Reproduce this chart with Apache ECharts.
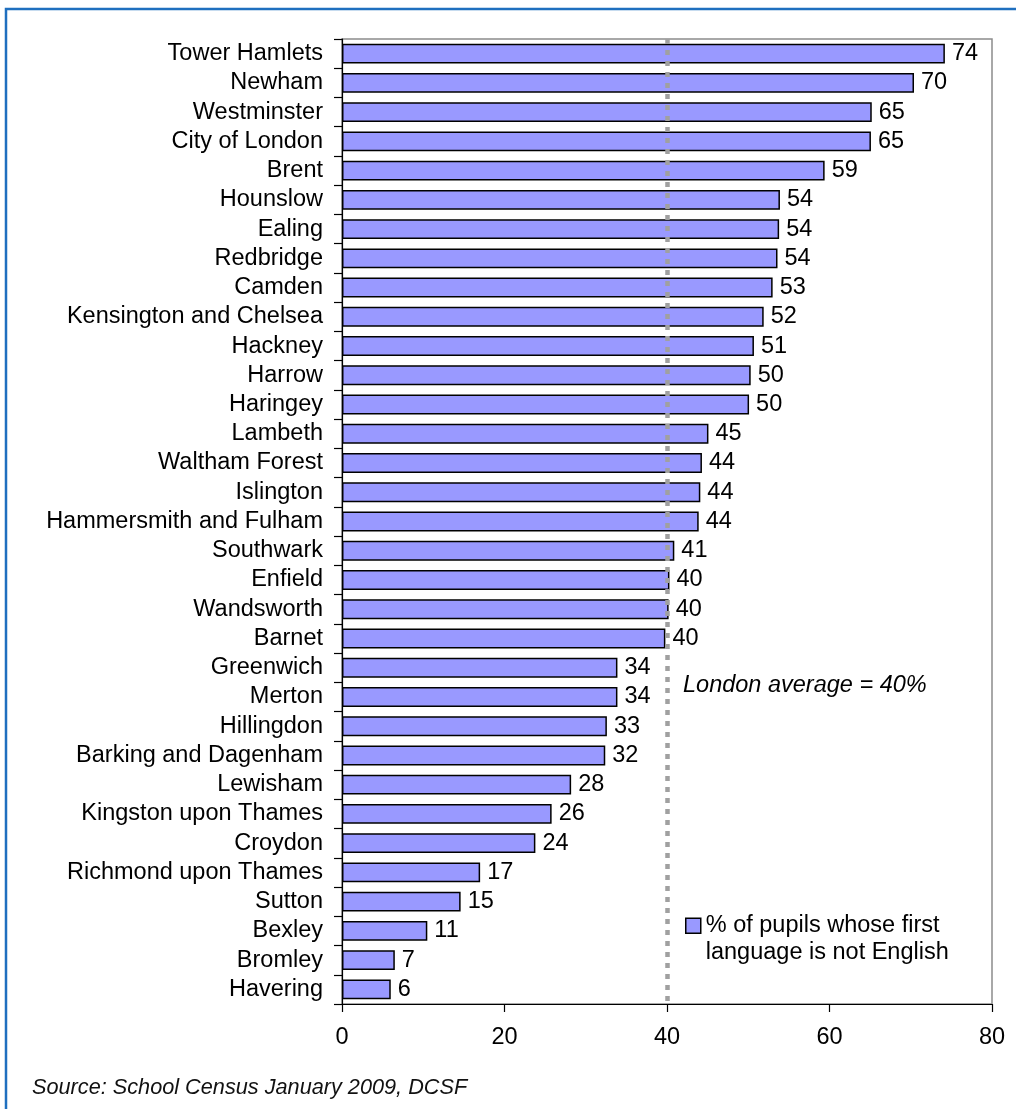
<!DOCTYPE html>
<html>
<head>
<meta charset="utf-8">
<script src="https://cdn.jsdelivr.net/npm/echarts@6/dist/echarts.min.js"></script>
<style>
html,body{margin:0;padding:0;background:#fff;}
#chart{width:1016px;height:1109px;}
</style>
</head>
<body>
<div id="chart"></div>
<script>
const boroughs = ["Tower Hamlets","Newham","Westminster","City of London","Brent","Hounslow","Ealing","Redbridge","Camden","Kensington and Chelsea","Hackney","Harrow","Haringey","Lambeth","Waltham Forest","Islington","Hammersmith and Fulham","Southwark","Enfield","Wandsworth","Barnet","Greenwich","Merton","Hillingdon","Barking and Dagenham","Lewisham","Kingston upon Thames","Croydon","Richmond upon Thames","Sutton","Bexley","Bromley","Havering"];
const pctNotEnglish = [74.2,70.4,65.2,65.1,59.4,53.9,53.8,53.6,53.0,51.9,50.7,50.3,50.1,45.1,44.3,44.1,43.9,40.9,40.3,40.2,39.8,33.9,33.9,32.6,32.4,28.2,25.8,23.8,17.0,14.6,10.5,6.5,6.0];
const londonAverage = 40;
const xTicks = {min:0, max:80, interval:20};
const seriesName = "% of pupils whose first language is not English";
const legendLines = ["% of pupils whose first","language is not English"];
const averageLabel = "London average = 40%";
const sourceText = "Source: School Census January 2009, DCSF";

const FONT = "Liberation Sans, Arial, sans-serif";
const chart = echarts.init(document.getElementById('chart'), null, {renderer:'canvas'});
chart.setOption({
  animation:false,
  backgroundColor:'#fff',
  title:{
    text: sourceText, left: 32, top: 1077, padding:0,
    textStyle:{fontFamily:FONT, fontSize:21.7, fontStyle:'italic', fontWeight:'normal', color:'#111'}
  },
  grid:{left:342, right:24, top:39, bottom:105, show:true, borderColor:'#8c8c8c', borderWidth:1.5, backgroundColor:'transparent'},
  legend:{
    show:true, left:685, top:886, padding:0, orient:'vertical',
    itemWidth:15, itemHeight:15, selectedMode:false,
    icon:'rect',
    formatter: function(){ return ' \n' + legendLines.join('\n'); },
    textStyle:{fontFamily:FONT, fontSize:23.5, color:'#000', lineHeight:26.5},
    itemStyle:{color:'#9999ff', borderColor:'#000', borderWidth:1.5},
    data:[seriesName]
  },
  xAxis:{
    type:'value', min:xTicks.min, max:xTicks.max, interval:xTicks.interval,
    axisLine:{show:true, lineStyle:{color:'#000', width:1.2}},
    axisTick:{show:true, length:8, lineStyle:{color:'#000', width:1.2}},
    axisLabel:{fontFamily:FONT, fontSize:23.5, color:'#000', margin:22},
    splitLine:{show:false}
  },
  yAxis:{
    type:'category', data:boroughs, inverse:true,
    axisLine:{show:true, lineStyle:{color:'#000', width:1.2}},
    axisTick:{show:true, length:8, lineStyle:{color:'#000', width:1.2}},
    axisLabel:{fontFamily:FONT, fontSize:23.5, color:'#000', margin:19, interval:0}
  },
  series:[{
    name:seriesName, type:'bar', data:pctNotEnglish,
    barCategoryGap:'32%',
    itemStyle:{color:'#9999ff', borderColor:'#000', borderWidth:1.5},
    label:{show:true, position:'right', distance:7, fontFamily:FONT, fontSize:23.5, color:'#000',
      formatter:function(p){return Math.round(p.value);}},
    markLine:{
      silent:true, symbol:'none', animation:false,
      label:{show:false},
      lineStyle:{color:'#a0a0a0', width:4.5, type:[5,6]},
      data:[{xAxis:londonAverage}]
    },
    z:2
  }],
  graphic:[
    {type:'text', left:683, top:674, z:10,
     style:{text:averageLabel, font:'italic 23.5px '+FONT, fill:'#000'}},
    {type:'rect', shape:{x:6, y:9, width:1200, height:1300}, z:-1,
     style:{fill:'none', stroke:'#1f6fbf', lineWidth:2.5}}
  ]
});
</script>
</body>
</html>
